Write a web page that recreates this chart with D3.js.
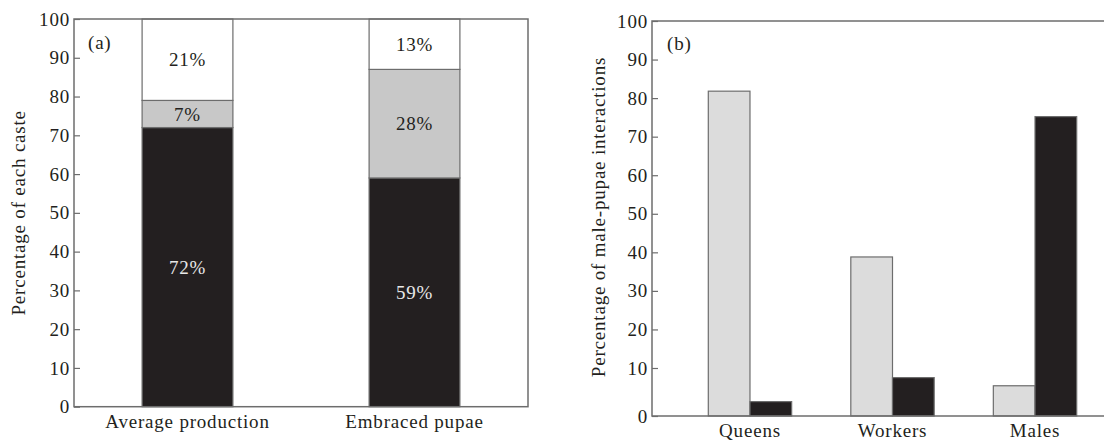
<!DOCTYPE html>
<html>
<head>
<meta charset="utf-8">
<script src="https://cdn.jsdelivr.net/npm/d3@7"></script>
<style>
  html, body { margin: 0; padding: 0; background: #fff; }
  svg text { font-family: "Liberation Serif", "Times New Roman", serif; fill: #231f20; letter-spacing: 0.8px; }
</style>
</head>
<body>
<svg id="chart" width="1104" height="441"></svg>
<script>
// Panel (a): caste composition, stacked percentages
const casteGroups = ["Average production", "Embraced pupae"];
const castes = ["workers", "queens", "males"];
const workersPct = [72, 59];
const queensPct = [7, 28];
const malesPct = [21, 13];

// Panel (b): share of male-pupae interactions by caste
const interactors = ["Queens", "Workers", "Males"];
const lightSeries = [81.8, 38.8, 6.3];
const darkSeries = [3.0, 8.0, 75.2];

const yTicks = [0, 10, 20, 30, 40, 50, 60, 70, 80, 90, 100];

const INK = "#231f20";
const FRAME = "#6d6d6d";
const FONT = 19;

const svg = d3.select("#chart");

// ---------- Panel (a) ----------
{
  const L = 74, R = 528, T = 19, B = 406.7;
  const x = d3.scaleBand().domain(casteGroups).range([L, R]).paddingInner(0.6).paddingOuter(0.3);
  const y = d3.scaleLinear().domain([0, 100]).range([B, T]);
  const g = svg.append("g");

  const fills = { workers: INK, queens: "#c8c8c8", males: "#ffffff" };
  const valueOf = { workers: workersPct, queens: queensPct, males: malesPct };
  const rows = casteGroups.map((c, i) => {
    const r = { group: c };
    castes.forEach(k => r[k] = valueOf[k][i]);
    return r;
  });
  const stack = d3.stack().keys(castes)(rows);

  stack.forEach(layer => {
    g.selectAll(null).data(layer).enter().append("rect")
      .attr("x", d => x(d.data.group))
      .attr("width", x.bandwidth())
      .attr("y", d => y(d[1]))
      .attr("height", d => y(d[0]) - y(d[1]))
      .attr("fill", fills[layer.key])
      .attr("stroke", FRAME)
      .attr("stroke-width", 1.2);
    g.selectAll(null).data(layer).enter().append("text")
      .attr("x", d => x(d.data.group) + x.bandwidth() / 2)
      .attr("y", d => y((d[0] + d[1]) / 2))
      .attr("dy", "0.35em")
      .attr("text-anchor", "middle")
      .attr("font-size", FONT)
      .style("fill", layer.key === "workers" ? "#e8e8e8" : INK)
      .text(d => (d[1] - d[0]) + "%");
  });

  // frame
  g.append("rect").attr("x", L).attr("y", T).attr("width", R - L).attr("height", B - T)
    .attr("fill", "none").attr("stroke", FRAME).attr("stroke-width", 1.5);

  const ya = g.append("g").attr("transform", `translate(${L},0)`)
    .call(d3.axisLeft(y).tickValues(yTicks).tickSize(-6).tickPadding(4));
  ya.select(".domain").remove();
  ya.selectAll("line").attr("stroke", FRAME).attr("stroke-width", 1.2);
  ya.selectAll("text").attr("font-size", FONT).attr("font-family", null).style("fill", INK);

  const xa = g.append("g").attr("transform", `translate(0,${B})`)
    .call(d3.axisBottom(x).tickSize(0).tickPadding(8));
  xa.select(".domain").remove();
  xa.selectAll("text").attr("font-size", FONT).attr("font-family", null).style("fill", INK);

  g.append("text").attr("x", L + 14).attr("y", 42).attr("dy", "0.35em")
    .attr("font-size", FONT).text("(a)");

  g.append("text")
    .attr("transform", `translate(18,${(T + B) / 2}) rotate(-90)`)
    .attr("text-anchor", "middle").attr("dy", "0.35em")
    .attr("font-size", FONT).text("Percentage of each caste");
}

// ---------- Panel (b) ----------
{
  const L = 652, R = 1133, T = 21, B = 416;
  const x0 = d3.scaleBand().domain(interactors).range([L, R]).paddingInner(0.415).paddingOuter(0.395);
  const x1 = d3.scaleBand().domain(["light", "dark"]).range([0, x0.bandwidth()]);
  // the printed axis stretches its lowest interval
  const y = d3.scaleLinear().domain([0, 10, 100]).range([B, 368, T]);
  const g = svg.append("g");

  const rows = interactors.map((c, i) => ({ cat: c, light: lightSeries[i], dark: darkSeries[i] }));
  const series = [
    { key: "light", fill: "#dcdcdc" },
    { key: "dark", fill: INK }
  ];
  series.forEach(s => {
    g.selectAll(null).data(rows).enter().append("rect")
      .attr("x", d => x0(d.cat) + x1(s.key))
      .attr("width", x1.bandwidth())
      .attr("y", d => y(d[s.key]))
      .attr("height", d => B - y(d[s.key]))
      .attr("fill", s.fill)
      .attr("stroke", FRAME)
      .attr("stroke-width", 1.2);
  });

  g.append("rect").attr("x", L).attr("y", T).attr("width", R - L).attr("height", B - T)
    .attr("fill", "none").attr("stroke", FRAME).attr("stroke-width", 1.5);

  const ya = g.append("g").attr("transform", `translate(${L},0)`)
    .call(d3.axisLeft(y).tickValues(yTicks).tickFormat(d3.format("d")).tickSize(-6).tickPadding(4));
  ya.select(".domain").remove();
  ya.selectAll("line").attr("stroke", FRAME).attr("stroke-width", 1.2);
  ya.selectAll("text").attr("font-size", FONT).attr("font-family", null).style("fill", INK);

  const xa = g.append("g").attr("transform", `translate(0,${B})`)
    .call(d3.axisBottom(x0).tickSize(0).tickPadding(8));
  xa.select(".domain").remove();
  xa.selectAll("text").attr("font-size", FONT).attr("font-family", null).style("fill", INK);

  g.append("text").attr("x", L + 15).attr("y", 43).attr("dy", "0.35em")
    .attr("font-size", FONT).text("(b)");

  g.append("text")
    .attr("transform", `translate(598,217) rotate(-90)`)
    .attr("text-anchor", "middle").attr("dy", "0.35em")
    .attr("font-size", FONT).text("Percentage of male-pupae interactions");
}
</script>
</body>
</html>
